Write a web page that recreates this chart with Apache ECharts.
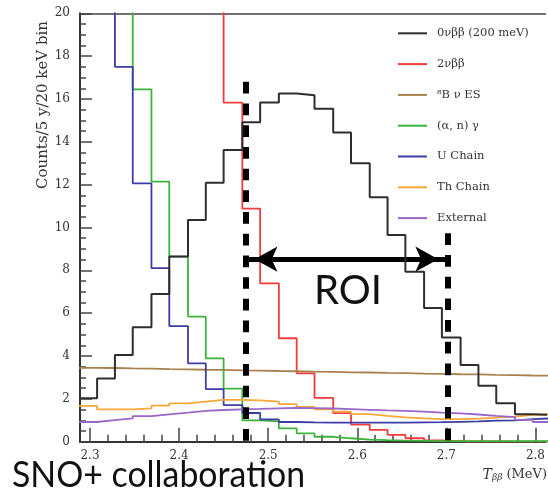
<!DOCTYPE html>
<html>
<head>
<meta charset="utf-8">
<script src="https://cdn.jsdelivr.net/npm/echarts@6/dist/echarts.min.js"></script>
<style>
  html, body { margin: 0; padding: 0; background: #ffffff; }
  #chart { width: 548px; height: 492px; }
</style>
</head>
<body>
<div id="chart"></div>
<script>
// Energy bin edges (MeV), roughly 20 keV wide
const binEdges = [2.287, 2.308, 2.328, 2.348, 2.369, 2.389, 2.410, 2.430, 2.450, 2.471,
                  2.491, 2.512, 2.532, 2.552, 2.573, 2.593, 2.614, 2.634, 2.654, 2.675,
                  2.695, 2.716, 2.736, 2.756, 2.777, 2.797, 2.818];

// Counts per bin for each component (values above 20 run off the top of the frame)
const zeroNu   = [2.03, 2.95, 4.05, 5.34, 6.90, 8.65, 10.35, 12.09, 13.62, 14.91, 15.84, 16.26, 16.17,
                  15.54, 14.44, 13.00, 11.41, 9.65, 7.94, 6.24, 4.86, 3.58, 2.61, 1.79, 1.28, 1.25];
const twoNu    = [60, 55, 50, 45, 40, 34, 28, 23, 15.83, 10.88, 7.39, 4.83, 3.19,
                  2.05, 1.33, 0.80, 0.55, 0.32, 0.16, 0.06, 0.02, 0.01, 0.01, 0.0, 0.0, 0.0];
const b8Solar  = [3.45, 3.44, 3.42, 3.41, 3.39, 3.38, 3.36, 3.35, 3.33, 3.32, 3.30, 3.29, 3.27,
                  3.26, 3.24, 3.23, 3.21, 3.20, 3.18, 3.17, 3.15, 3.14, 3.12, 3.11, 3.09, 3.08];
const alphaN   = [40, 32, 25, 16.45, 12.14, 8.64, 5.84, 3.89, 2.48, 1.00, 0.95, 0.62, 0.39,
                  0.23, 0.16, 0.10, 0.07, 0.05, 0.04, 0.03, 0.02, 0.02, 0.02, 0.02, 0.02, 0.02];
const uChain   = [30, 24, 17.50, 12.06, 8.10, 5.40, 3.66, 2.45, 1.71, 1.34, 1.04, 0.92, 0.90,
                  0.89, 0.89, 0.89, 0.89, 0.89, 0.90, 0.91, 0.93, 0.95, 0.98, 1.00, 1.05, 1.09];
const thChain  = [1.67, 1.51, 1.51, 1.56, 1.68, 1.79, 1.87, 1.95, 1.95, 1.93, 1.87, 1.75, 1.63,
                  1.51, 1.40, 1.29, 1.21, 1.14, 1.09, 1.05, 1.05, 1.08, 1.12, 1.17, 1.25, 1.29];
const external = [0.92, 1.01, 1.09, 1.19, 1.28, 1.36, 1.44, 1.48, 1.51, 1.53, 1.56, 1.58, 1.57,
                  1.55, 1.52, 1.49, 1.46, 1.44, 1.40, 1.36, 1.32, 1.27, 1.21, 1.15, 1.02, 0.92];

const seriesNames  = ['0νββ (200 meV)', '2νββ', '⁸B ν ES', '(α, n) γ', 'U Chain', 'Th Chain', 'External'];
const seriesValues = [zeroNu, twoNu, b8Solar, alphaN, uChain, thChain, external];
const seriesColors = ['#2e2e2e', '#f03c3c', '#a8804e', '#3cb43c', '#3c3ca8', '#f7a838', '#9a66c8'];

// Axis ticks
const xMajorTicks = [2.3, 2.4, 2.5, 2.6, 2.7, 2.8];
const xMinorTicks = [2.32, 2.34, 2.36, 2.38, 2.42, 2.44, 2.46, 2.48, 2.52, 2.54, 2.56, 2.58,
                     2.62, 2.64, 2.66, 2.68, 2.72, 2.74, 2.76, 2.78];
const xRange = [2.2888, 2.8113];
const yRange = [0, 20];

// Region of interest: boundaries, dashed-line heights and arrow level
const roiBounds  = [2.4745, 2.7011];
const roiHeights = [16.8, 9.73];
const roiArrowY  = 8.52;

const serif = '"DejaVu Serif", "Liberation Serif", serif';

function stepData(values) {
  return binEdges.map((e, i) => [e, values[Math.min(i, values.length - 1)]]);
}

const histSeries = seriesNames.map((name, k) => ({
  name: name,
  type: 'line',
  step: 'end',
  symbol: 'none',
  clip: true,
  animation: false,
  color: seriesColors[k],
  lineStyle: { color: seriesColors[k], width: k === 0 ? 2 : 1.8 },
  z: k === 0 ? 5 : 3,
  data: stepData(seriesValues[k])
}));

// ROI boundaries (thick dashed) and the double-headed arrow between them
histSeries.push({
  name: 'roi',
  type: 'line',
  data: [],
  animation: false,
  markLine: {
    silent: true,
    animation: false,
    symbol: 'none',
    label: { show: false },
    data: [
      [
        { coord: [roiBounds[0], roiHeights[0]] },
        { coord: [roiBounds[0], 0] }
      ],
      [
        { coord: [roiBounds[1], roiHeights[1]] },
        { coord: [roiBounds[1], 0] }
      ],
      [
        { coord: [roiBounds[0], roiArrowY], symbol: 'arrow', symbolSize: [19, 23], symbolOffset: [0, 9],
          lineStyle: { type: 'solid', width: 5, color: '#000' } },
        { coord: [roiBounds[1], roiArrowY], symbol: 'arrow', symbolSize: [19, 23], symbolOffset: [0, 9] }
      ]
    ],
    lineStyle: { type: [11.7, 10], width: 6, color: '#000', cap: 'butt' }
  }
});

const chart = echarts.init(document.getElementById('chart'), null, { renderer: 'canvas' });

chart.setOption({
  backgroundColor: '#ffffff',
  animation: false,
  grid: {
    left: 80, top: 13.3, right: 0, bottom: 50.3,
    show: false
  },
  legend: {
    data: seriesNames,
    orient: 'vertical',
    left: 398,
    top: 26.3,
    padding: 0,
    icon: 'rect',
    itemWidth: 29,
    itemHeight: 2,
    itemGap: 16.8,
    textStyle: { fontFamily: serif, fontSize: 11.5, color: '#333', lineHeight: 14, padding: [0, 0, 0, 5] }
  },
  xAxis: [
    {
      type: 'value', min: xRange[0], max: xRange[1], position: 'bottom',
      axisLine: { show: true, onZero: false, lineStyle: { color: '#333', width: 2 } },
      axisTick: { show: true, inside: true, length: 14, customValues: xMajorTicks, lineStyle: { color: '#444', width: 1.5 } },
      axisLabel: { show: true, customValues: xMajorTicks, margin: 8, fontFamily: serif, fontSize: 12, color: '#333',
                   formatter: v => v.toFixed(1) },
      splitLine: { show: false }
    },
    {
      type: 'value', min: xRange[0], max: xRange[1], position: 'bottom',
      axisLine: { show: false },
      axisTick: { show: true, inside: true, length: 7, customValues: xMinorTicks, lineStyle: { color: '#444', width: 1.5 } },
      axisLabel: { show: false },
      splitLine: { show: false }
    },
    {
      // upper frame edge
      type: 'value', min: xRange[0], max: xRange[1], position: 'top',
      axisLine: { show: true, onZero: false, lineStyle: { color: '#444', width: 1.5 } },
      axisTick: { show: false },
      axisLabel: { show: false },
      splitLine: { show: false }
    }
  ],
  yAxis: {
    type: 'value', min: yRange[0], max: yRange[1], interval: 2,
    axisLine: { show: true, lineStyle: { color: '#333', width: 2 } },
    axisTick: { show: true, inside: true, length: 12, lineStyle: { color: '#444', width: 1.5 } },
    minorTick: { show: true, splitNumber: 4, length: 6, lineStyle: { color: '#444', width: 1.5 } },
    axisLabel: { margin: 10, fontFamily: serif, fontSize: 12, color: '#333' },
    splitLine: { show: false }
  },
  graphic: [
    {
      type: 'text', x: 43, y: 105, rotation: Math.PI / 2,
      style: { text: 'Counts/5 y/20 keV bin', font: '15px ' + serif, fill: '#333', align: 'center', verticalAlign: 'middle' }
    },
    {
      type: 'text', right: 1, top: 468,
      style: {
        text: '{i|T}{s|ββ} (MeV)',
        fill: '#333',
        font: '13px ' + serif,
        rich: {
          i: { fontFamily: serif, fontStyle: 'italic', fontSize: 14, fill: '#333' },
          s: { fontFamily: serif, fontStyle: 'italic', fontSize: 9, fill: '#333', verticalAlign: 'bottom', padding: [6, 0, 0, 0] }
        }
      }
    },
    {
      type: 'text', x: 348, y: 291,
      style: { text: 'ROI', font: '40px Lato', fill: '#111', align: 'center', verticalAlign: 'middle' }
    },
    {
      type: 'text', x: 12, y: 475, scaleX: 0.94,
      style: { text: 'SNO+ collaboration', font: '36px Lato', fill: '#111', align: 'left', verticalAlign: 'middle' }
    }
  ],
  series: histSeries
});
</script>
</body>
</html>
